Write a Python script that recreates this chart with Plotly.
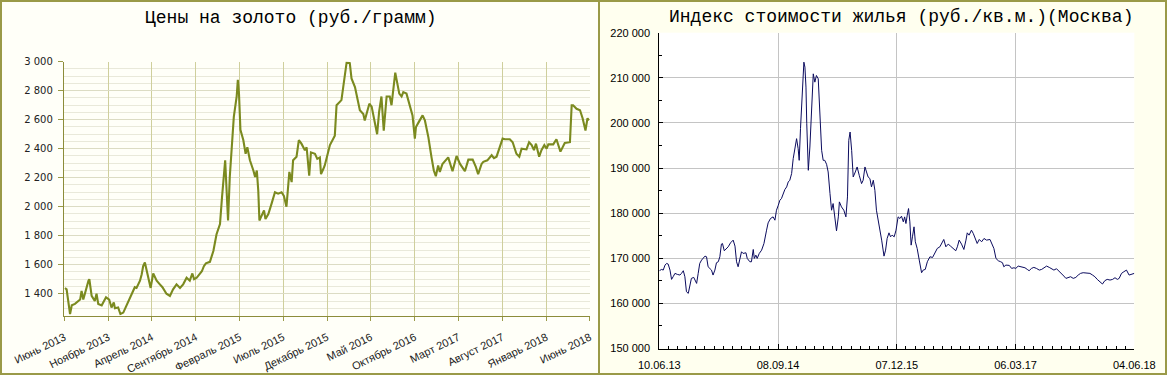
import plotly.graph_objects as go

# ---------------- data: gold price (rub / gram) ----------------
gold_dates = [
    "2013-06-03","2013-06-09","2013-06-21","2013-06-27","2013-07-08","2013-07-26","2013-07-31","2013-08-06",
    "2013-08-24","2013-08-27","2013-09-04","2013-09-15","2013-09-21","2013-09-27","2013-10-09","2013-10-24",
    "2013-11-04","2013-11-12","2013-11-20","2013-11-24","2013-12-05","2013-12-13","2013-12-23","2014-01-09",
    "2014-01-26","2014-02-01","2014-02-07","2014-02-19","2014-02-25","2014-03-02","2014-03-08","2014-03-20",
    "2014-03-28","2014-04-06","2014-04-18","2014-04-29","2014-05-08","2014-05-22","2014-06-03","2014-06-14",
    "2014-06-26","2014-07-08","2014-07-19","2014-07-31","2014-08-11","2014-08-20","2014-08-26","2014-09-04",
    "2014-09-15","2014-09-22","2014-09-29","2014-10-06","2014-10-20","2014-11-01","2014-11-12","2014-11-24",
    "2014-12-01","2014-12-08","2014-12-12","2014-12-17","2014-12-22","2014-12-28","2015-01-05","2015-01-11",
    "2015-01-21","2015-01-25","2015-01-29","2015-02-03","2015-02-13","2015-02-21","2015-02-27","2015-03-08",
    "2015-03-20","2015-03-26","2015-04-01","2015-04-06","2015-04-10","2015-04-18","2015-04-26","2015-05-01",
    "2015-05-11","2015-05-22","2015-06-03","2015-06-14","2015-06-26","2015-07-04","2015-07-13","2015-07-23",
    "2015-07-31","2015-08-05","2015-08-17","2015-08-25","2015-09-03","2015-09-15","2015-09-21","2015-09-30",
    "2015-10-06","2015-10-20","2015-10-28","2015-11-06","2015-11-10","2015-11-18","2015-11-23","2015-12-11",
    "2015-12-28","2016-01-03","2016-01-20","2016-02-07","2016-02-18","2016-02-24","2016-03-07","2016-03-24",
    "2016-04-05","2016-04-10","2016-04-26","2016-05-04","2016-05-15","2016-05-23","2016-05-30","2016-06-07",
    "2016-06-15","2016-06-25","2016-07-06","2016-07-12","2016-07-25","2016-08-01","2016-08-08","2016-08-16",
    "2016-08-22","2016-09-02","2016-09-12","2016-09-23","2016-10-01","2016-10-05","2016-10-15","2016-10-28",
    "2016-11-05","2016-11-17","2016-11-28","2016-12-06","2016-12-13","2016-12-21","2016-12-27","2017-01-05",
    "2017-01-25","2017-02-09","2017-02-23","2017-03-07","2017-03-24","2017-04-05","2017-04-20","2017-05-01",
    "2017-05-09","2017-05-21","2017-05-27","2017-06-10","2017-06-25","2017-07-03","2017-07-12","2017-07-24",
    "2017-08-02","2017-08-10","2017-08-27","2017-09-06","2017-09-19","2017-09-29","2017-10-07","2017-10-24",
    "2017-11-02","2017-11-11","2017-11-19","2017-11-26","2017-12-07","2017-12-15","2017-12-25","2018-01-02",
    "2018-01-08","2018-01-25","2018-02-05","2018-02-19","2018-02-26","2018-03-06","2018-03-24","2018-03-30",
    "2018-04-04","2018-04-16","2018-04-28","2018-05-07","2018-05-17","2018-05-24","2018-05-29",
]
gold_values = [
    1440,1430,1260,1320,1330,1360,1420,1360,
    1490,1500,1385,1350,1400,1330,1320,1375,
    1360,1305,1340,1300,1305,1260,1270,1340,
    1410,1445,1440,1490,1535,1590,1615,1510,
    1440,1540,1490,1465,1445,1400,1385,1430,
    1465,1440,1465,1510,1490,1540,1500,1510,
    1535,1555,1590,1610,1620,1695,1810,1880,
    2065,2250,2320,2110,1905,2205,2460,2620,
    2760,2875,2780,2530,2460,2365,2410,2320,
    2250,2205,2250,2110,1905,1940,1975,1915,
    1950,2020,2100,2090,2100,2075,2000,2240,
    2170,2320,2345,2460,2435,2390,2410,2215,
    2375,2365,2330,2340,2225,2260,2285,2425,
    2490,2700,2735,2995,2990,2885,2825,2665,
    2640,2595,2710,2690,2585,2500,2655,2760,
    2525,2760,2760,2700,2925,2850,2780,2760,
    2790,2780,2710,2630,2470,2550,2585,2630,
    2595,2480,2340,2250,2210,2285,2240,2295,
    2340,2245,2350,2295,2245,2325,2325,2275,
    2225,2295,2310,2320,2355,2335,2345,2425,
    2470,2465,2465,2445,2365,2345,2400,2395,
    2445,2425,2390,2435,2345,2390,2425,2400,
    2430,2430,2465,2380,2410,2440,2445,2700,
    2700,2675,2665,2610,2525,2610,2595,
]
gold_tick_dates = ["2013-06-01","2013-11-01","2014-04-01","2014-09-01","2015-02-01","2015-07-01",
                   "2015-12-01","2016-05-01","2016-10-01","2017-03-01","2017-08-01","2018-01-01","2018-06-01"]
gold_tick_labels = ["Июнь 2013","Ноябрь 2013","Апрель 2014","Сентябрь 2014","Февраль 2015","Июль 2015",
                    "Декабрь 2015","Май 2016","Октябрь 2016","Март 2017","Август 2017","Январь 2018","Июнь 2018"]

# ---------------- data: housing price index Moscow (rub / sq.m) ----------------
house_dates = [
    "2013-06-10","2013-06-19","2013-06-25","2013-07-02","2013-07-08","2013-07-14","2013-07-21","2013-07-27",
    "2013-08-02","2013-08-09","2013-08-18","2013-08-28","2013-09-03","2013-09-10","2013-09-16","2013-09-22",
    "2013-09-29","2013-10-05","2013-10-11","2013-10-20","2013-10-31","2013-11-06","2013-11-12","2013-11-19",
    "2013-12-02","2013-12-08","2013-12-14","2013-12-27","2014-01-02","2014-01-09","2014-01-15","2014-01-22",
    "2014-01-28","2014-02-03","2014-02-07","2014-02-14","2014-02-20","2014-03-01","2014-03-10","2014-03-20",
    "2014-03-27","2014-04-02","2014-04-08","2014-04-15","2014-04-21","2014-04-27","2014-05-08","2014-05-13",
    "2014-05-23","2014-05-29","2014-06-05","2014-06-09","2014-06-15","2014-06-20","2014-06-28","2014-07-07",
    "2014-07-16","2014-07-26","2014-08-01","2014-08-10","2014-08-20","2014-08-27","2014-09-02","2014-09-09",
    "2014-09-15","2014-09-21","2014-09-28","2014-10-04","2014-10-11","2014-10-17","2014-10-23","2014-10-30",
    "2014-11-05","2014-11-11","2014-11-18","2014-11-24","2014-11-28","2014-12-03","2014-12-08","2014-12-13",
    "2014-12-16","2014-12-20","2014-12-24","2014-12-27","2015-01-02","2015-01-08","2015-01-14","2015-01-21",
    "2015-01-27","2015-02-02","2015-02-09","2015-02-15","2015-02-22","2015-02-28","2015-03-06","2015-03-13",
    "2015-03-19","2015-03-26","2015-04-01","2015-04-07","2015-04-14","2015-04-20","2015-04-27","2015-05-01",
    "2015-05-09","2015-05-18","2015-05-26","2015-06-01","2015-06-06","2015-06-11","2015-06-17","2015-06-23",
    "2015-07-01","2015-07-08","2015-07-16","2015-07-25","2015-07-31","2015-08-07","2015-08-13","2015-08-19",
    "2015-08-26","2015-09-01","2015-09-08","2015-09-14","2015-09-20","2015-10-01","2015-10-10","2015-10-19",
    "2015-10-25","2015-10-31","2015-11-07","2015-11-13","2015-11-19","2015-11-27","2015-12-04","2015-12-12",
    "2015-12-19","2015-12-25","2016-01-01","2016-01-06","2016-01-11","2016-01-16","2016-01-21","2016-01-26",
    "2016-01-31","2016-02-05","2016-02-11","2016-02-16","2016-02-23","2016-03-02","2016-03-11","2016-03-17",
    "2016-03-25","2016-04-02","2016-04-12","2016-04-22","2016-05-01","2016-05-10","2016-05-20","2016-05-31",
    "2016-06-04","2016-06-12","2016-06-21","2016-06-30","2016-07-10","2016-07-20","2016-07-26","2016-08-02",
    "2016-08-11","2016-08-20","2016-08-28","2016-09-02","2016-09-09","2016-09-18","2016-09-25","2016-10-01",
    "2016-10-10","2016-10-18","2016-10-27","2016-11-05","2016-11-15","2016-11-28","2016-12-04","2016-12-13",
    "2016-12-21","2016-12-30","2017-01-08","2017-01-15","2017-01-20","2017-01-28","2017-02-10","2017-02-19",
    "2017-02-28","2017-03-07","2017-03-16","2017-03-29","2017-04-11","2017-04-20","2017-04-27","2017-05-06",
    "2017-05-15","2017-05-25","2017-06-05","2017-06-14","2017-06-23","2017-07-03","2017-07-13","2017-07-22",
    "2017-07-31","2017-08-10","2017-08-20","2017-08-29","2017-09-07","2017-09-15","2017-09-24","2017-10-03",
    "2017-10-13","2017-10-23","2017-11-01","2017-11-10","2017-11-20","2017-12-03","2017-12-16","2017-12-26",
    "2018-01-04","2018-01-13","2018-01-23","2018-02-02","2018-02-11","2018-02-20","2018-03-03","2018-03-13",
    "2018-03-22","2018-03-31","2018-04-07","2018-04-16","2018-04-25","2018-05-05","2018-05-15","2018-05-24",
    "2018-06-04",
]
house_values = [
    167240,167530,167380,168490,168860,168710,167380,165320,
    165910,166650,166430,166280,166650,167240,165910,162590,
    162220,163700,165540,165760,164430,166650,168860,169600,
    170480,170330,168120,167380,166280,167380,169000,169230,
    170330,173140,173280,171660,171950,172540,173430,174020,
    172690,169230,168120,169600,171440,171070,171220,169960,
    169230,169230,171950,169960,170700,169960,171070,171800,
    173280,176230,177850,178810,179180,178440,180650,181760,
    182870,183230,184490,185230,185820,186920,187290,188770,
    192080,194660,196510,194300,191710,198720,205360,208670,
    213470,212360,207940,199830,189500,194660,201300,210880,
    209040,210520,209780,203510,193930,191710,191710,190830,
    189130,184340,180650,182130,179180,176080,179180,182500,
    181390,180650,179180,183600,196140,197980,193930,188030,
    189130,190240,188400,186550,187290,190240,189130,188030,
    187660,185820,187290,185080,180650,177340,174020,170480,
    171800,174390,175640,174760,175130,174760,176230,179180,
    178810,179330,178080,179180,177700,179550,181020,178080,
    172910,174760,176970,173650,172180,169600,166800,167380,
    167530,169230,170330,170180,171220,172180,172540,173650,
    174170,172540,173140,172690,172180,171660,172540,174020,
    173140,171950,174020,175640,175130,176230,175500,174390,
    173280,174170,173650,174390,174020,174170,173430,172180,
    169960,169450,169230,169010,168120,168490,168420,167750,
    167900,167750,168270,168120,167900,167530,167240,167750,
    167980,167750,167380,167530,167980,168270,167980,167750,
    167380,167680,167160,166650,166060,165540,165760,165910,
    165540,165760,166280,166650,166800,166650,166650,166280,
    165910,165320,164800,164290,165030,165320,165170,165320,
    165690,165320,165540,166650,167020,167380,166280,166430,
    166650,
]
house_tick_dates = ["2013-06-10","2014-09-08","2015-12-07","2017-03-06","2018-06-04"]
house_tick_labels = ["10.06.13","08.09.14","07.12.15","06.03.17","04.06.18"]

gold_title = "Цены на золото (руб./грамм)"
house_title = "Индекс стоимости жилья (руб./кв.м.)(Москва)"

# ---------------- figure ----------------
W, H = 1167, 375
OLIVE = "#9a9a48"

fig = go.Figure()
fig.add_trace(go.Scatter(x=gold_dates, y=gold_values, mode="lines",
                         line=dict(color="#7b8a1f", width=2.1), xaxis="x", yaxis="y",
                         hoverinfo="skip"))
fig.add_trace(go.Scatter(x=house_dates, y=house_values, mode="lines",
                         line=dict(color="#0b0b5e", width=1), xaxis="x2", yaxis="y2",
                         hoverinfo="skip"))

fig.update_layout(
    template="none",
    width=W, height=H,
    margin=dict(l=0, r=0, t=0, b=0, pad=0, autoexpand=False),
    paper_bgcolor="#ffffef",
    plot_bgcolor="#ffffff",
    showlegend=False,
    separators=", ",
    xaxis=dict(
        domain=[64.3 / W, 589.8 / W], anchor="y", type="date", automargin=False,
        range=["2013-06-01", "2018-06-01"],
        tickmode="array", tickvals=gold_tick_dates, ticktext=gold_tick_labels,
        tickangle=-26, ticks="outside", ticklen=4, tickcolor=OLIVE,
        showline=True, linecolor="#8c8c3a", linewidth=1.5,
        showgrid=True, gridcolor="#cfcf9c", gridwidth=1,
        tickfont=dict(family="Liberation Sans", size=11, color="#222222"),
        ticklabelstandoff=6,
        zeroline=False, fixedrange=True,
    ),
    yaxis=dict(
        domain=[1 - 315.5 / H, 1 - 61.7 / H], anchor="x", automargin=False,
        range=[1250, 3000], tick0=0, dtick=200, tickformat=",d",
        ticks="outside", ticklen=5, tickcolor=OLIVE,
        showline=True, linecolor="#8c8c3a", linewidth=1.5,
        showgrid=True, gridcolor="#dcdcc4", gridwidth=1,
        minor=dict(dtick=50, tick0=0, showgrid=True, gridcolor="#e9e9da", ticks=""),
        tickfont=dict(family="DejaVu Sans", size=10, color="#222222"),
        ticklabelstandoff=3,
        zeroline=False, fixedrange=True,
    ),
    xaxis2=dict(
        domain=[659.3 / W, 1134.3 / W], anchor="y2", type="date", automargin=False,
        range=["2013-06-10", "2018-06-04"],
        tickmode="array", tickvals=house_tick_dates, ticktext=house_tick_labels,
        ticks="inside", ticklen=5, tickcolor="#000000",
        minor=dict(dtick=35 * 86400000, tick0="2013-06-10", ticks="inside", ticklen=3,
                   tickcolor="#000000", showgrid=False),
        showline=True, linecolor="#000000", linewidth=1,
        showgrid=True, gridcolor="#c4c4c4", gridwidth=1,
        tickfont=dict(family="Liberation Sans", size=11, color="#000000"),
        ticklabelstandoff=6,
        zeroline=False, fixedrange=True,
    ),
    yaxis2=dict(
        domain=[1 - 348.5 / H, 1 - 32.7 / H], anchor="x2", automargin=False,
        range=[150000, 220000], dtick=10000, tickformat=",d",
        ticks="inside", ticklen=4, tickcolor="#000000",
        minor=dict(dtick=5000, ticks="inside", ticklen=3, tickcolor="#000000", showgrid=False),
        showline=True, linecolor="#000000", linewidth=1,
        showgrid=True, gridcolor="#c4c4c4", gridwidth=1,
        tickfont=dict(family="Liberation Sans", size=11, color="#000000"),
        ticklabelstandoff=6,
        zeroline=False, fixedrange=True,
    ),
    annotations=[
        dict(text=gold_title, xref="paper", yref="paper", x=291 / W, y=1 - 18 / H,
             xanchor="center", yanchor="middle", showarrow=False,
             font=dict(family="Liberation Mono", size=18, color="#000000")),
        dict(text=house_title, xref="paper", yref="paper", x=901 / W, y=1 - 17 / H,
             xanchor="center", yanchor="middle", showarrow=False,
             font=dict(family="Liberation Mono", size=18, color="#000000")),
    ],
    shapes=[
        # left panel background
        dict(type="rect", xref="paper", yref="paper", x0=0, x1=599 / W, y0=0, y1=1,
             fillcolor="#fffff8", line=dict(width=0), layer="below"),
        # outer border
        dict(type="rect", xref="paper", yref="paper", x0=1 / W, x1=1 - 1 / W, y0=1 / H, y1=1 - 1 / H,
             line=dict(color=OLIVE, width=2), fillcolor="rgba(0,0,0,0)", layer="above"),
        # divider between panels
        dict(type="line", xref="paper", yref="paper", x0=599 / W, x1=599 / W, y0=0, y1=1,
             line=dict(color=OLIVE, width=2), layer="above"),
    ],
)

fig.write_html("out.html", config={"displayModeBar": False, "staticPlot": True})
